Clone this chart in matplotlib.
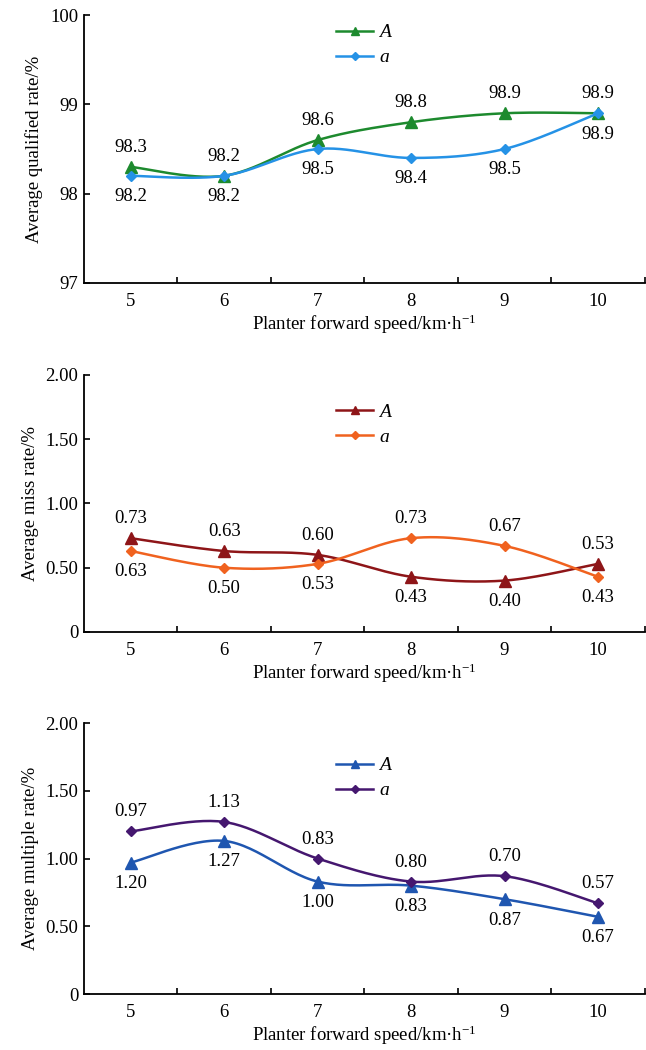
import numpy as np
import matplotlib
matplotlib.use('Agg')
import matplotlib.pyplot as plt

plt.rcParams['font.family'] = ['Liberation Serif', 'DejaVu Serif']
plt.rcParams['mathtext.default'] = 'regular'

speed = [5, 6, 7, 8, 9, 10]

qual_A = [98.3, 98.2, 98.6, 98.8, 98.9, 98.9]
qual_a = [98.2, 98.2, 98.5, 98.4, 98.5, 98.9]

miss_A = [0.73, 0.63, 0.60, 0.43, 0.40, 0.53]
miss_a = [0.63, 0.50, 0.53, 0.73, 0.67, 0.43]

mult_A = [0.97, 1.13, 0.83, 0.80, 0.70, 0.57]
mult_a = [1.20, 1.27, 1.00, 0.83, 0.87, 0.67]

qual_ticks = [97, 98, 99, 100]
qual_ticklabels = ['97', '98', '99', '100']
rate_ticks = [0, 0.5, 1.0, 1.5, 2.0]
rate_ticklabels = ['0', '0.50', '1.00', '1.50', '2.00']

XLABEL = 'Planter forward speed/km·h$^{-1}$'


def smooth(x, y, n=30):
    # Catmull-Rom style smoothing like spreadsheet "smoothed line"
    x = np.asarray(x, float)
    y = np.asarray(y, float)
    px = np.concatenate([[x[0]], x, [x[-1]]])
    py = np.concatenate([[y[0]], y, [y[-1]]])
    xs, ys = [], []
    t = np.linspace(0, 1, n)
    for i in range(1, len(px) - 2):
        p0 = np.array([px[i], py[i]])
        p3 = np.array([px[i + 1], py[i + 1]])
        c1 = p0 + (np.array([px[i + 1], py[i + 1]]) - np.array([px[i - 1], py[i - 1]])) / 6
        c2 = p3 - (np.array([px[i + 2], py[i + 2]]) - np.array([px[i], py[i]])) / 6
        b = ((1 - t) ** 3)[:, None] * p0 + (3 * (1 - t) ** 2 * t)[:, None] * c1 \
            + (3 * (1 - t) * t ** 2)[:, None] * c2 + (t ** 3)[:, None] * p3
        xs.extend(b[:, 0])
        ys.extend(b[:, 1])
    return xs, ys


def panel(ax, yA, ya, cA, ca, ylabel, ylim, ticks, ticklabels, fmt,
          above_txt, below_txt, leg_y):
    for y, c, m, ms, lab in [(yA, cA, '^', 8, 'A'), (ya, ca, 'D', 5.5, 'a')]:
        sx, sy = smooth(speed, y)
        ax.plot(sx, sy, color=c, lw=1.8)
        ax.plot(speed, y, ls='none', marker=m, ms=ms, color=c)
        ax.plot([], [], color=c, lw=1.8, marker=m, ms=ms * 0.75, label=lab)

    hi = np.maximum(yA, ya)
    lo = np.minimum(yA, ya)
    for i, x in enumerate(speed):
        ax.annotate(fmt % above_txt[i], (x, hi[i]), xytext=(0, 14),
                    textcoords='offset points', ha='center', va='center', fontsize=13.5)
        ax.annotate(fmt % below_txt[i], (x, lo[i]), xytext=(0, -15),
                    textcoords='offset points', ha='center', va='center', fontsize=13.5)

    ax.set_xlim(4.5, 10.5)
    ax.set_ylim(*ylim)
    ax.set_xticks(speed)
    ax.set_xticklabels([str(s) for s in speed])
    ax.set_xticks(np.arange(5.5, 10.6, 1), minor=True)
    ax.tick_params(axis='x', which='major', length=0, pad=7, labelsize=13.5)
    ax.tick_params(axis='x', which='minor', direction='in', length=4.5, width=1.2)
    ax.set_yticks(ticks)
    ax.set_yticklabels(ticklabels)
    ax.tick_params(axis='y', direction='in', length=4.5, width=1.2, pad=4, labelsize=13.5)
    ax.spines['top'].set_visible(False)
    ax.spines['right'].set_visible(False)
    for s in ['left', 'bottom']:
        ax.spines[s].set_linewidth(1.3)
    ax.set_xlabel(XLABEL, fontsize=13.5, labelpad=2)
    ax.set_ylabel(ylabel, fontsize=13.5, labelpad=5)
    ax.legend(loc='center left', bbox_to_anchor=(0.45, leg_y), frameon=False,
              prop={'style': 'italic', 'size': 14}, handlelength=1.9,
              handletextpad=0.3, labelspacing=0.38, borderpad=0, borderaxespad=0)


fig = plt.figure(figsize=(6.46, 10.5), dpi=100)
ax1 = fig.add_axes([0.130, 0.7305, 0.868, 0.2552])
ax2 = fig.add_axes([0.130, 0.3981, 0.868, 0.2448])
ax3 = fig.add_axes([0.130, 0.0533, 0.868, 0.2581])

panel(ax1, qual_A, qual_a, '#1d8a2e', '#2592e6', 'Average qualified rate/%',
      (97, 100), qual_ticks, qual_ticklabels, '%.1f',
      qual_A, qual_a, 0.888)
panel(ax2, miss_A, miss_a, '#8e1518', '#f0621f', 'Average miss rate/%',
      (0, 2), rate_ticks, rate_ticklabels, '%.2f',
      np.maximum(miss_A, miss_a), np.minimum(miss_A, miss_a), 0.807)
panel(ax3, mult_A, mult_a, '#1f56b0', '#45176f', 'Average multiple rate/%',
      (0, 2), rate_ticks, rate_ticklabels, '%.2f',
      mult_A, mult_a, 0.797)

fig.savefig('out.png', dpi=100)
